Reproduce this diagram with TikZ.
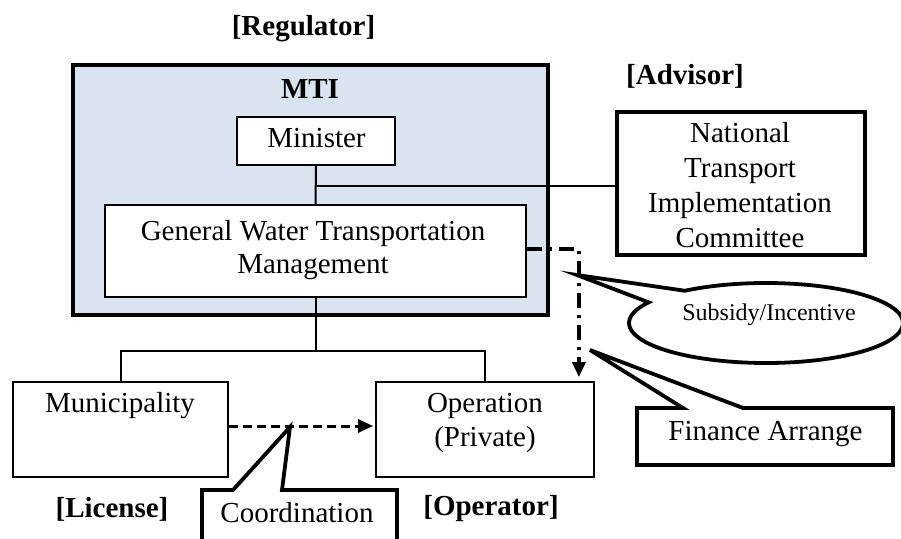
\documentclass[tikz,border=0pt]{standalone}
\usepackage{fontspec}
\setmainfont{Liberation Serif}
\usetikzlibrary{arrows.meta,calc}
\definecolor{mtiblue}{RGB}{218,227,240}
\newcommand\mainsz{\fontsize{29}{34}\selectfont}
\newcommand\mainbf{\fontsize{29}{34}\selectfont\bfseries}
\newcommand\smallsz{\fontsize{24}{28}\selectfont}
\begin{document}
\begin{tikzpicture}[x=1pt,y=-1pt,
  thinbox/.style={draw, line width=1.8pt, fill=white, inner sep=0pt},
  thickbox/.style={draw, line width=4pt, inner sep=0pt},
  txt/.style={inner sep=0pt, anchor=base, font=\mainsz},
  btxt/.style={inner sep=0pt, anchor=base, font=\mainbf},
  conn/.style={line width=2pt},
  callout/.style={draw, line width=3.8pt, line join=miter, fill=white},
  dashconn/.style={line width=3pt, dash pattern=on 9pt off 5pt},
  dashdotconn/.style={line width=3.2pt, dash pattern=on 15pt off 7pt on 3pt off 7pt},
  tip/.style={-{Triangle[length=15pt,width=13pt]}}
]
\useasboundingbox (0,0) rectangle (901,538);
\fill[white] (0,0) rectangle (901,538);

% boxes
\node[thickbox, fill=mtiblue, minimum width=475pt, minimum height=250pt] (mti) at (310.5,190) {};
\node[thinbox, minimum width=158pt, minimum height=48pt] (minister) at (316,141) {};
\node[thinbox, minimum width=421pt, minimum height=92pt] (gwtm) at (315.5,251) {};
\node[thickbox, fill=white, minimum width=248pt, minimum height=143pt] (ntic) at (741,183.5) {};
\node[thinbox, minimum width=215pt, minimum height=95pt] (muni) at (120.5,429.5) {};
\node[thinbox, minimum width=218pt, minimum height=95pt] (oper) at (485,429.5) {};

% texts
\node[btxt] (lreg) at (303.5,35) {[Regulator]};
\node[btxt] (lmti) at (310,98) {MTI};
\node[btxt] (ladv) at (685,84) {[Advisor]};
\node[txt] (tmin) at (316.5,147) {Minister};
\node[txt] (tgw1) at (313,240) {General Water Transportation};
\node[txt] (tgw2) at (313,273) {Management};
\node[txt] (tnt1) at (740,142) {National};
\node[txt] (tnt2) at (740,177) {Transport};
\node[txt] (tnt3) at (740,212) {Implementation};
\node[txt] (tnt4) at (740,247) {Committee};
\node[txt] (tmun) at (120,412) {Municipality};
\node[txt] (top1) at (485,412) {Operation};
\node[txt] (top2) at (485,446) {(Private)};
\node[btxt] (llic) at (112,517) {[License]};
\node[btxt] (lopr) at (491,515) {[Operator]};

% org connectors
\draw[conn] (minister.south) -- (gwtm.north);
\coordinate (j1) at (316,186);
\draw[conn] (j1) -- (j1 -| ntic.west);
\draw[conn] (gwtm.south) -- ++(0,53) coordinate (j2);
\draw[conn] (muni.north) |- (j2) -| (oper.north);

% dashed connectors
\draw[dashconn, tip] ($(muni.east)+(0,-3.5)$) -- ($(oper.west)+(-2,-3.5)$);
\draw[dashdotconn, tip] ($(gwtm.east)+(0,-2)$) -| ($(oper.north east)+(-16,-4)$);

% callouts
\draw[callout] (202,490) -- (233,490) -- (290,427) -- (282,490) -- (397,490)
  -- (397,560) -- (202,560) -- cycle;
\node[txt] (tcoord) at (297,522) {Coordination};

\draw[callout] (637,408) -- (683,408) -- (590,350) -- (743,408) -- (893,408)
  -- (893,465) -- (637,465) -- cycle;
\node[txt] (tfin) at (765.5,440) {Finance Arrange};

\draw[callout] (766,323) ++(233.7:137 and 40)
  arc[start angle=233.7, end angle=571.1, x radius=137, y radius=40]
  -- (577,275) -- cycle;
\node[inner sep=0pt, anchor=base, font=\smallsz] (tsub) at (769,320) {Subsidy/Incentive};
\end{tikzpicture}
\end{document}
